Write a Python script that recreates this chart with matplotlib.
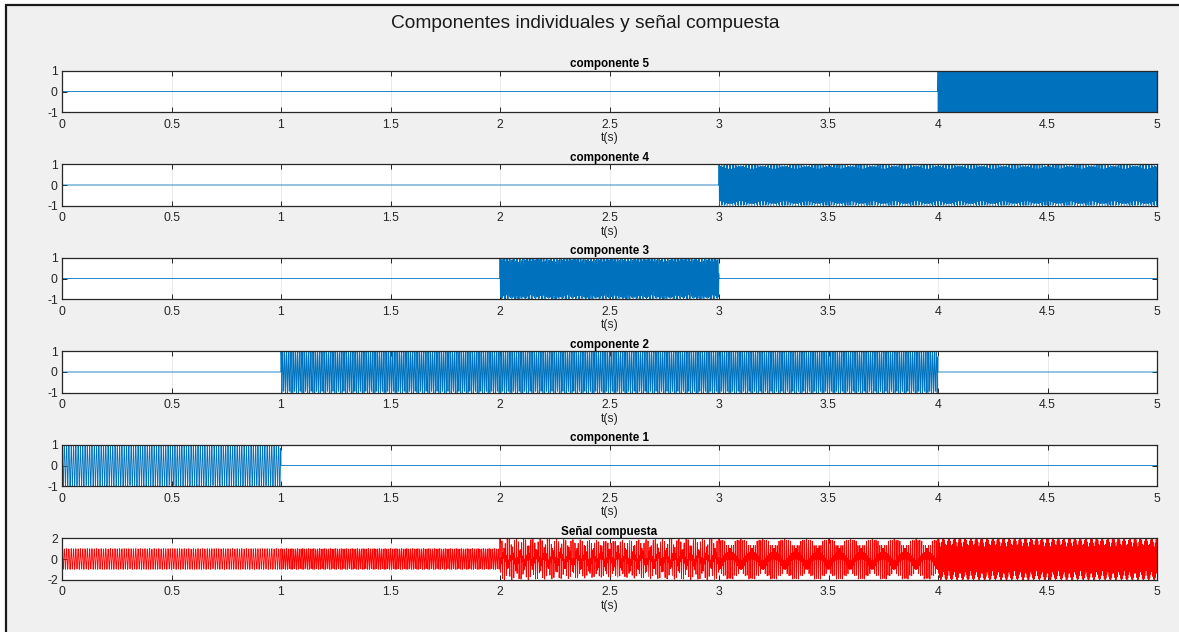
import numpy as np
import matplotlib
matplotlib.use("Agg")
import matplotlib.pyplot as plt
from matplotlib.patches import Rectangle

# Component parameters: frequency (Hz) and active time window (s)
fs = 1000
freqs = [95, 120, 213, 230, 500]
t_start = [0, 1, 2, 3, 4]
t_end = [1, 4, 3, 5, 5]
comp_titles = ["componente 1", "componente 2", "componente 3",
               "componente 4", "componente 5"]
sum_title = "Señal compuesta"
fig_title = "Componentes individuales y señal compuesta"
x_ticks = [0, 0.5, 1, 1.5, 2, 2.5, 3, 3.5, 4, 4.5, 5]
x_ticklabels = ["0", "0.5", "1", "1.5", "2", "2.5", "3", "3.5", "4", "4.5", "5"]

t = np.arange(0, 5 + 1 / fs, 1 / fs)
components = []
for f, a, b in zip(freqs, t_start, t_end):
    gate = (t >= a) & (t < b)
    components.append(np.where(gate, np.cos(2 * np.pi * f * t), 0.0))
composite = np.sum(components, axis=0)

plt.rcParams["font.family"] = ["Liberation Sans", "DejaVu Sans"]

W, H = 1179, 632
fig = plt.figure(figsize=(W / 100, H / 100), dpi=100, facecolor="white")

# Window panel: light grey with dark edge along the top and left
fig.patches.append(Rectangle((6 / W, -0.1), 1.2, 1.1 - 5 / H,
                             transform=fig.transFigure, facecolor="#f0f0f0",
                             edgecolor="#1a1a1a", linewidth=1.6, zorder=-10))

fig.text(585 / W, 1 - 23 / H, fig_title, ha="center", va="center",
         fontsize=13.8, color="#1a1a1a")

left = 62 / W
width = (1157 - 62) / W
ax_h = 41.6 / H
row_top0 = 70.7
row_step = 93.5

blue = "#0072BD"
text_col = "#262626"

panels = [(components[4], comp_titles[4], blue, [-1, 1], [-1, 0, 1]),
          (components[3], comp_titles[3], blue, [-1, 1], [-1, 0, 1]),
          (components[2], comp_titles[2], blue, [-1, 1], [-1, 0, 1]),
          (components[1], comp_titles[1], blue, [-1, 1], [-1, 0, 1]),
          (components[0], comp_titles[0], blue, [-1, 1], [-1, 0, 1]),
          (composite, sum_title, "#ff0000", [-2, 2], [-2, 0, 2])]

for i, (y, title, col, ylim, yt) in enumerate(panels):
    top = row_top0 + i * row_step
    ax = fig.add_axes([left, 1 - (top + 41.6) / H, width, ax_h])
    ax.set_facecolor("white")
    ax.plot(t, y, color=col, linewidth=0.6)
    ax.set_xlim(0, 5)
    ax.set_ylim(*ylim)
    ax.set_xticks(x_ticks)
    ax.set_xticklabels(x_ticklabels)
    ax.set_yticks(yt)
    ax.set_yticklabels([str(v) for v in yt])
    for xv in x_ticks[1:-1]:
        ax.axvline(xv, color="#e6e6e6", linewidth=0.6, zorder=0)
    ax.tick_params(direction="in", length=3.5, width=0.7, top=True, right=True,
                   labelsize=8.8, colors="#262626", pad=4.5)
    ax.tick_params(axis="y", pad=3)
    for s in ax.spines.values():
        s.set_color("#262626")
        s.set_linewidth(0.9)
    ax.set_title(title, fontsize=8.4, fontweight="bold", color="#000000", pad=2.5)
    ax.set_xlabel("t(s)", fontsize=8.8, color=text_col, labelpad=1.2)

fig.savefig("out.png", dpi=100, facecolor=fig.get_facecolor())
